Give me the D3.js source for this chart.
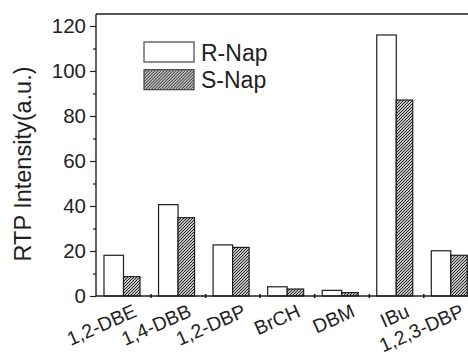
<!DOCTYPE html>
<html>
<head>
<meta charset="utf-8">
<script src="https://cdn.jsdelivr.net/npm/d3@7"></script>
<style>
  body { margin: 0; background: #fff; }
  svg { display: block; font-family: "Liberation Sans", Arial, sans-serif; }
</style>
</head>
<body>
<svg id="chart" width="468" height="358"></svg>
<script>
// data
const categories = ["1,2-DBE", "1,4-DBB", "1,2-DBP", "BrCH", "DBM", "IBu", "1,2,3-DBP"];
const rNap = [18.1, 40.6, 22.7, 4.1, 2.5, 116, 20.1];
const sNap = [8.6, 34.8, 21.6, 3.1, 1.5, 87.1, 18.1];
const yTicks = [0, 20, 40, 60, 80, 100, 120];
const seriesNames = ["R-Nap", "S-Nap"];

const ink = "#1f1f1f";
const margin = {top: 14, left: 96, bottom: 62};
const height = 358 - margin.top - margin.bottom;
const step = 54.55;

const svg = d3.select("#chart");

// hatch pattern for S-Nap
const defs = svg.append("defs");
const pat = defs.append("pattern")
  .attr("id", "hatch")
  .attr("patternUnits", "userSpaceOnUse")
  .attr("width", 3).attr("height", 3);
pat.append("rect").attr("width", 3).attr("height", 3).attr("fill", "#fff");
pat.append("path")
  .attr("d", "M-1,1 l2,-2 M0,3 l3,-3 M2,4 l2,-2")
  .attr("stroke", "#1a1a1a").attr("stroke-width", 1.05);

const x = d3.scaleBand()
  .domain(categories)
  .range([margin.left, margin.left + step * categories.length])
  .padding(0);

const xb = d3.scaleLinear()
  .domain([0, categories.length])
  .range([margin.left, margin.left + step * categories.length]);

const y = d3.scaleLinear()
  .domain([0, 125.33])
  .range([margin.top + height, margin.top]);

const rW = 19.5, sW = 16.5, off = 8;

// frame top line
svg.append("line")
  .attr("x1", margin.left).attr("x2", 468)
  .attr("y1", y(125.33)).attr("y2", y(125.33))
  .attr("stroke", ink).attr("stroke-width", 1.4);

// bars
svg.selectAll("rect.r")
  .data(categories)
  .enter().append("rect")
  .attr("class", "r")
  .attr("x", d => x(d) + off)
  .attr("width", rW)
  .attr("y", (d, i) => y(rNap[i]))
  .attr("height", (d, i) => y(0) - y(rNap[i]))
  .attr("fill", "#fff").attr("stroke", ink).attr("stroke-width", 1.2);

svg.selectAll("rect.s")
  .data(categories)
  .enter().append("rect")
  .attr("class", "s")
  .attr("x", d => x(d) + off + rW)
  .attr("width", sW)
  .attr("y", (d, i) => y(sNap[i]))
  .attr("height", (d, i) => y(0) - y(sNap[i]))
  .attr("fill", "url(#hatch)").attr("stroke", ink).attr("stroke-width", 1.2);

// y axis
const yAxis = svg.append("g")
  .attr("transform", `translate(${margin.left},0)`)
  .call(d3.axisLeft(y).tickValues(yTicks).tickSize(6).tickPadding(4));
yAxis.select(".domain").remove();
yAxis.selectAll(".tick line").attr("stroke", ink).attr("stroke-width", 1.2);
yAxis.selectAll(".tick text")
  .attr("fill", ink).attr("font-size", 20.5).attr("font-family", "Liberation Sans, Arial, sans-serif");

const yMinor = svg.append("g")
  .attr("transform", `translate(${margin.left},0)`)
  .call(d3.axisLeft(y).tickValues(d3.range(10, 125, 20)).tickSize(3).tickFormat(""));
yMinor.select(".domain").remove();
yMinor.selectAll(".tick line").attr("stroke", ink).attr("stroke-width", 1.2);

svg.append("line")
  .attr("x1", margin.left).attr("x2", margin.left)
  .attr("y1", y(125.33)).attr("y2", y(0))
  .attr("stroke", ink).attr("stroke-width", 1.4);

// x axis
const xAxis = svg.append("g")
  .attr("transform", `translate(0,${y(0)})`)
  .call(d3.axisBottom(xb).tickValues(d3.range(1, categories.length + 1)).tickSizeInner(2).tickSizeOuter(0).tickFormat(""));
xAxis.select(".domain").remove();
xAxis.selectAll(".tick line").attr("stroke", ink).attr("stroke-width", 1.6)
  .attr("y1", -2).attr("y2", 2);

svg.append("line")
  .attr("x1", margin.left).attr("x2", 468)
  .attr("y1", y(0)).attr("y2", y(0))
  .attr("stroke", ink).attr("stroke-width", 1.5);

// x labels
svg.selectAll("text.xl")
  .data(categories)
  .enter().append("text")
  .attr("class", "xl")
  .attr("text-anchor", "end")
  .attr("font-size", 19.5)
  .attr("fill", ink)
  .attr("transform", d => `translate(${x(d) + off + (rW + sW) / 2 + 16},${y(0) + 20}) rotate(-24)`)
  .text(d => d);

// y title
svg.append("text")
  .attr("text-anchor", "middle")
  .attr("font-size", 23.5)
  .attr("fill", ink)
  .attr("transform", `translate(31,${(y(0) + y(125.33)) / 2 + 9}) rotate(-90)`)
  .text("RTP Intensity(a.u.)");

// legend
const legend = svg.append("g").attr("transform", "translate(144,42)");
seriesNames.forEach((name, i) => {
  const g = legend.append("g").attr("transform", `translate(0,${i * 27.7})`);
  g.append("rect")
    .attr("width", 50).attr("height", 20)
    .attr("fill", i === 0 ? "#fff" : "url(#hatch)")
    .attr("stroke", "#444").attr("stroke-width", 1.2);
  g.append("text")
    .attr("x", 57).attr("y", 18.5)
    .attr("font-size", 23).attr("fill", ink)
    .text(name);
});
</script>
</body>
</html>
